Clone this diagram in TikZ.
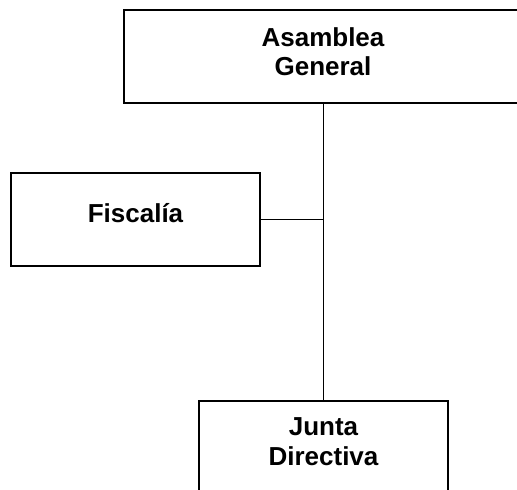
\documentclass[tikz,border=0pt]{standalone}
\usepackage{fontspec}
\setmainfont{Liberation Sans}
\begin{document}
\begin{tikzpicture}[x=1pt,y=-1pt,
  orgbox/.style={draw=black, line width=1.2pt, rectangle, inner sep=0pt, fill=white},
  lbl/.style={font=\fontsize{26}{29.5}\selectfont\bfseries, align=center, inner sep=0pt},
  link/.style={draw=black, line width=0.9pt}]
\useasboundingbox (0,0) rectangle (517,490);
\node[orgbox, minimum width=398pt, minimum height=93pt] (ag) at (323,56.5) {};
\node[orgbox, minimum width=249pt, minimum height=93pt] (fi) at (135.5,219.5) {};
\node[orgbox, minimum width=249pt, minimum height=93pt] (jd) at (323.5,447.5) {};
\draw[link] (ag.south) -- (ag.south |- jd.north);
\draw[link] (fi.east) -- (fi.east -| ag.south);
\node[lbl] (agt) at (323,51.7) {Asamblea\\General};
\node[lbl] (fit) at (135.5,213.3) {Fiscalía};
\node[lbl] (jdt) at (323.5,441.8) {Junta\\Directiva};
\end{tikzpicture}
\end{document}
